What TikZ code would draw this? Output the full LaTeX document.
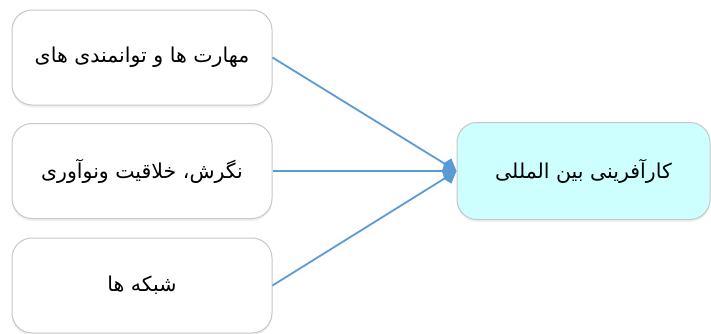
\documentclass[tikz,border=0pt]{standalone}
\usepackage{fontspec}
\newfontfamily\arabicfont[Script=Arabic]{DejaVu Sans}
\usetikzlibrary{arrows.meta,shadows}
\TeXXeTstate=1
\definecolor{linkblue}{RGB}{91,155,213}
\definecolor{goalcyan}{RGB}{206,255,255}
\begin{document}
\begin{tikzpicture}[x=1pt,y=-1pt,
    box/.style={draw=black!22, line width=1pt, rounded corners=20pt, fill=white,
      minimum width=260pt, minimum height=95pt, inner sep=0pt,
      font=\arabicfont\fontsize{20.5}{24}\selectfont,
      drop shadow={opacity=0.12, shadow xshift=0pt, shadow yshift=-2.5pt}},
    goal/.style={box, fill=goalcyan, minimum width=253pt, minimum height=97pt},
    link/.style={draw=linkblue, fill=linkblue, line width=1.8pt,
      -{Kite[length=15pt,width=16pt,inset=4pt]}}]
  \useasboundingbox (0,0) rectangle (711,333);
  \node[box] (skills) at (142,57.5) {\beginR مهارت ها و توانمندی های\endR};
  \node[box] (attitude) at (142,171) {\beginR نگرش، خلاقیت ونوآوری\endR};
  \node[box] (network) at (142,285.5) {\beginR شبکه ها\endR};
  \node[goal] (intl) at (583.5,171) {\beginR کارآفرینی بین المللی\endR};
  \draw[link] (skills.east) -- (intl.west);
  \draw[link] (attitude.east) -- (intl.west);
  \draw[link] (network.east) -- (intl.west);
\end{tikzpicture}
\end{document}
